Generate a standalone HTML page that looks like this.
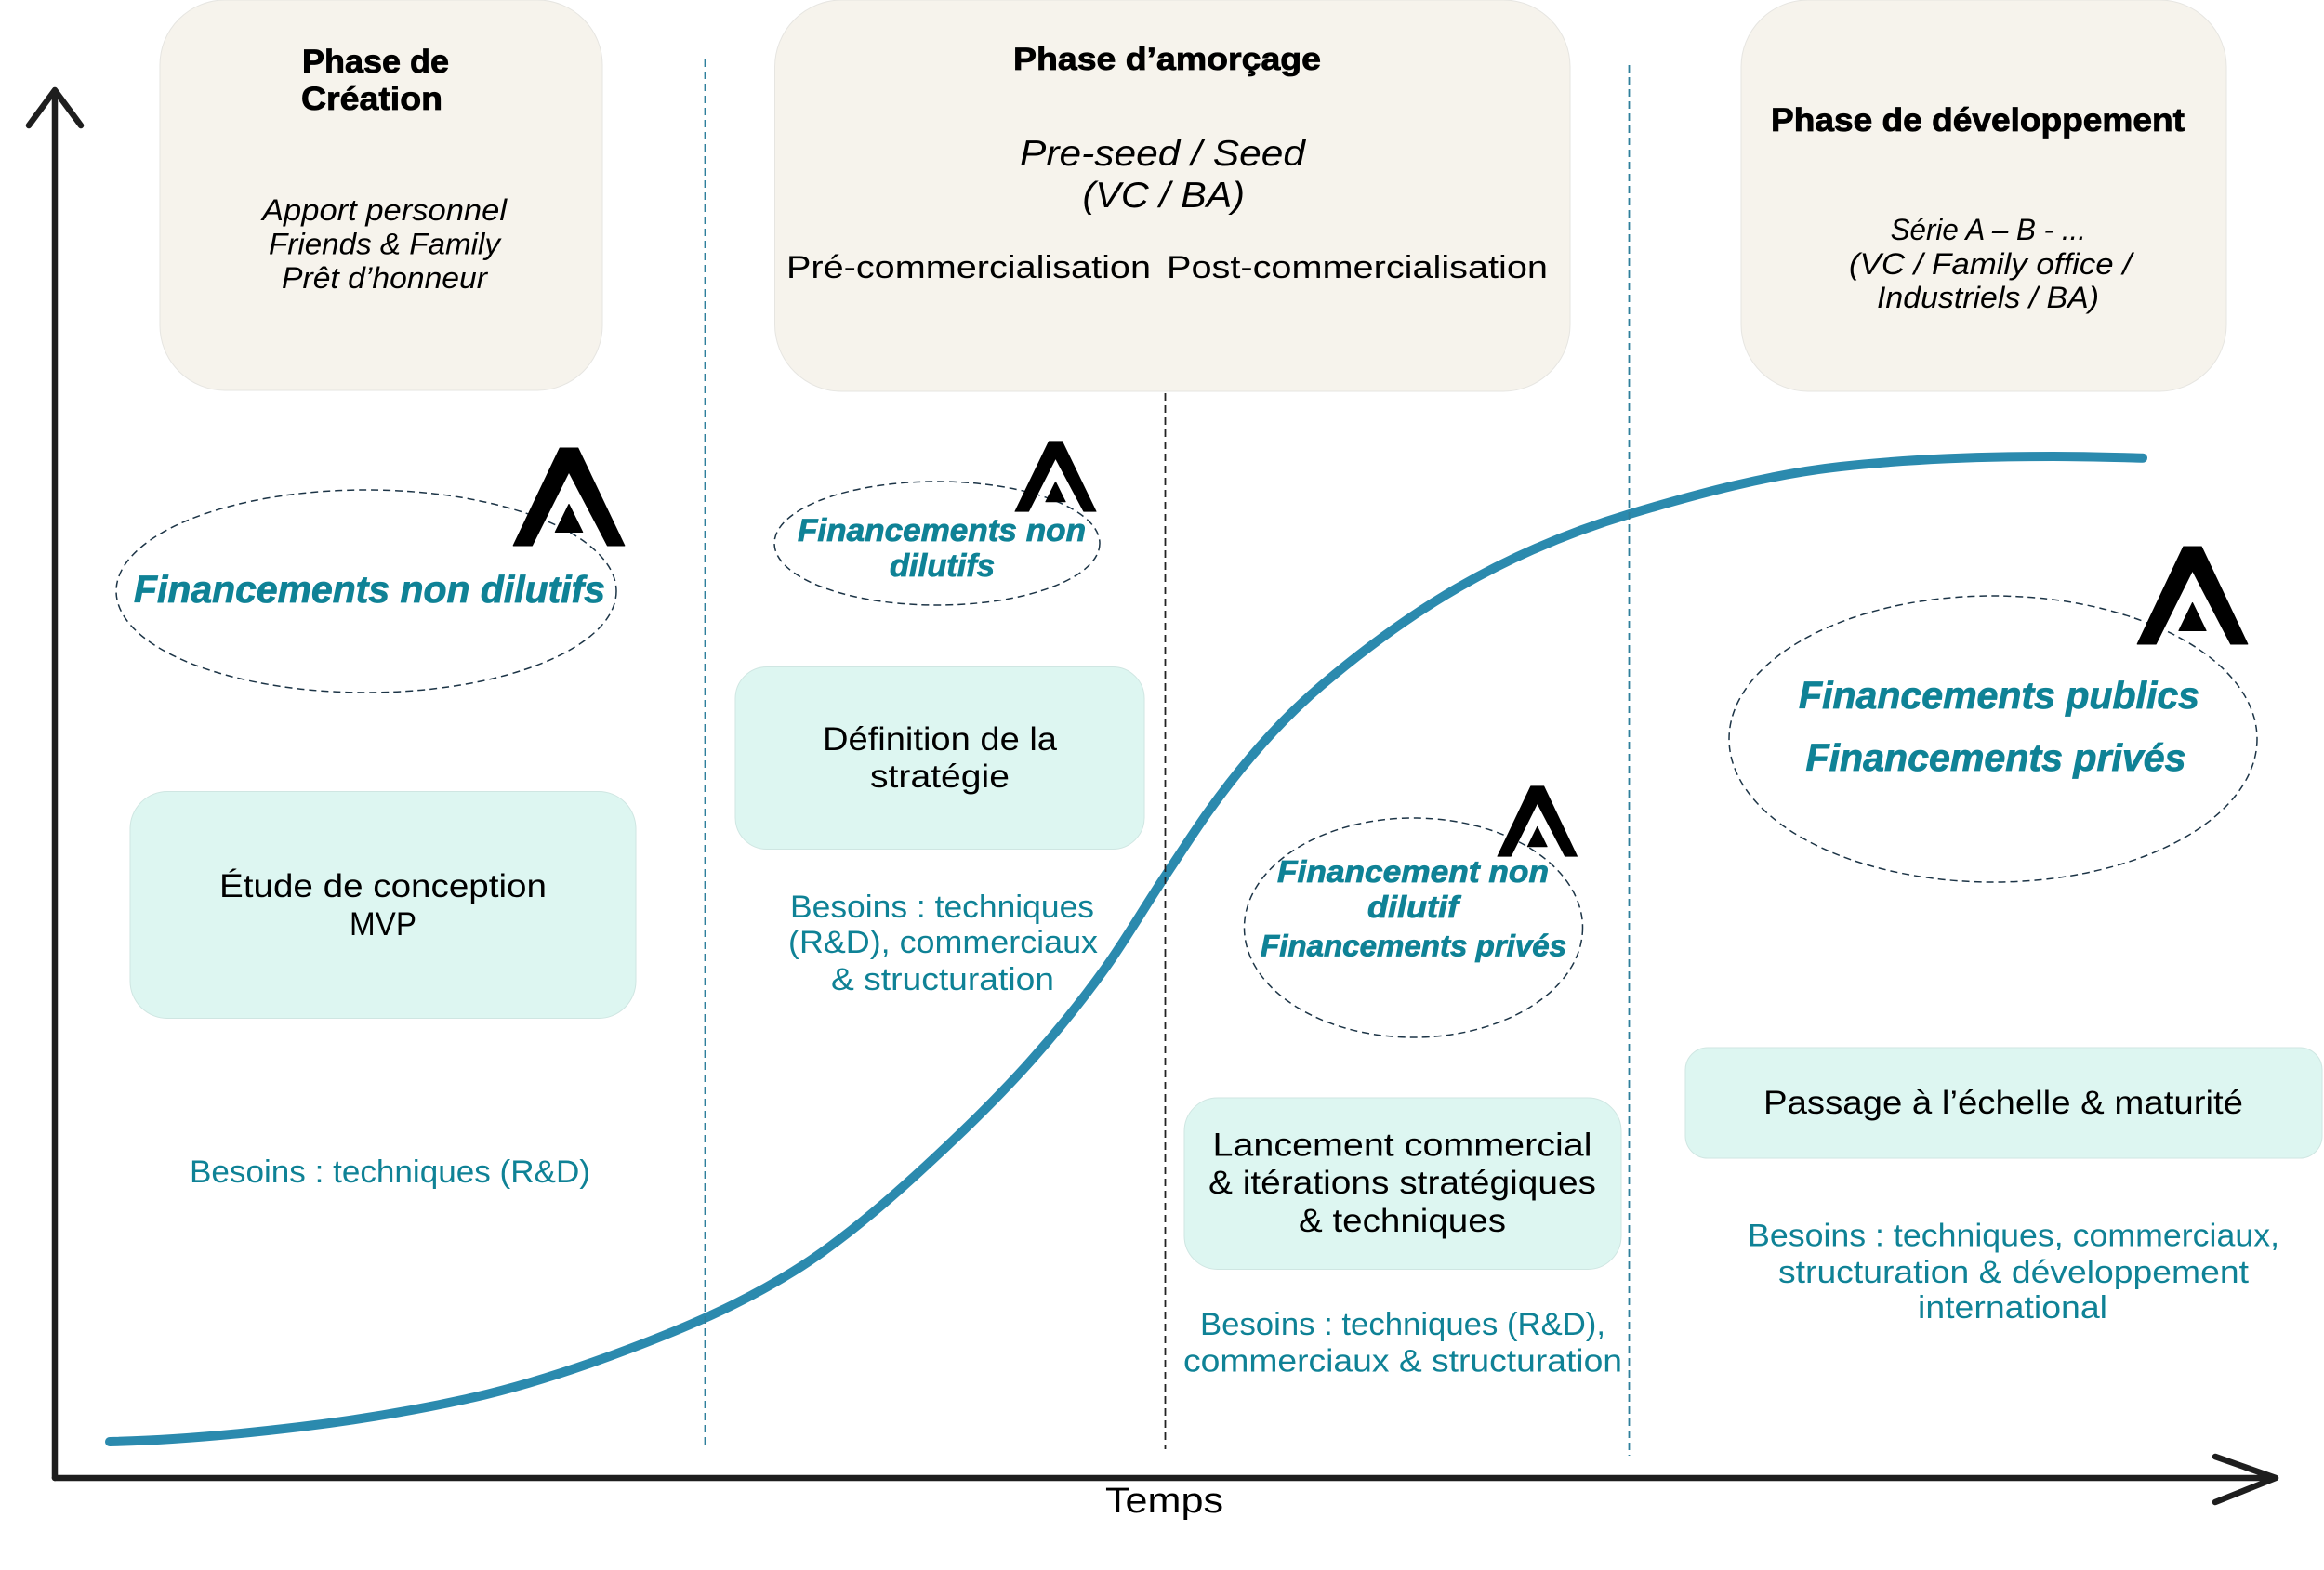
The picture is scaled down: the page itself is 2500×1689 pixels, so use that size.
<!DOCTYPE html>
<html lang="fr">
<head>
<meta charset="utf-8">
<title>Phases de financement</title>
<style>
html,body{margin:0;padding:0;background:#fff;width:2500px;height:1689px;overflow:hidden}
svg{display:block}
text{font-family:"Liberation Sans",sans-serif}
.h{font-weight:700;fill:#000;stroke:#000;stroke-width:.8}
.i{font-style:italic;fill:#000}
.n{fill:#000}
.b{fill:#0f8296}
.f{font-weight:700;font-style:italic;fill:#0f8296;stroke:#0f8296;stroke-width:.8}
.beige{fill:#f6f3ec;stroke:#e6e5e1;stroke-width:1}
.mint{fill:#ddf6f1;stroke:#cfe6e2;stroke-width:1}
.el{fill:none;stroke:#1c3446;stroke-width:1.5;stroke-dasharray:8 5}
</style>
</head>
<body>
<svg width="2500" height="1689" viewBox="0 0 2500 1689" xmlns="http://www.w3.org/2000/svg">
<defs>
<g id="logo"><path d="M0.01,0.99 L0.42,0.01 L0.58,0.01 L0.99,0.99 L0.84,0.99 L0.5,0.25 L0.175,0.99 Z M0.5,0.575 L0.62,0.855 L0.38,0.855 Z" fill="#000" stroke="#000" stroke-width="0.01" stroke-linejoin="round"/></g>
</defs>
<rect width="2500" height="1689" fill="#fff"/>

<!-- Curve -->
<path d="M118,1551 C186.3,1549.6 254.7,1543.2 323,1535 C382.7,1527.8 442.3,1518.1 502,1505 C561.3,1492 620.7,1472.5 680,1450 C737.7,1428.1 795.3,1403.8 853,1368 C910.3,1332.5 967.7,1281.4 1025,1227 C1080,1174.7 1135,1117 1190,1040 C1211,1010.6 1232,974.5 1253,943 C1268.7,919.5 1284.3,895 1300,873 C1340.7,816 1381.3,771.6 1422,737 C1470.3,696 1518.7,661 1567,633 C1629,597 1691,571.6 1753,553 C1828.7,530.3 1904.3,510.3 1980,502 C2056.3,493.6 2132.7,491 2209,491 C2241,491 2273,491.9 2305,492.7" fill="none" stroke="#2b8aae" stroke-width="10" stroke-linecap="round" stroke-linejoin="round"/>

<!-- Axes -->
<path d="M59,1590 L59,97 M31,135 L59,97 L87,135" fill="none" stroke="#1e1e1e" stroke-width="6.500" stroke-linecap="round" stroke-linejoin="round"/>
<path d="M59,1590 L2448,1590 M2383,1567 L2448,1590 L2383,1616" fill="none" stroke="#1e1e1e" stroke-width="6.500" stroke-linecap="round" stroke-linejoin="round"/>

<!-- Dashed separators -->
<line x1="758.5" y1="64" x2="758.5" y2="1559" stroke="#2f7f9c" stroke-width="1.8" stroke-dasharray="8 5"/>
<line x1="1253.5" y1="423" x2="1253.5" y2="1559" stroke="#222" stroke-width="1.8" stroke-dasharray="8 5"/>
<line x1="1752.5" y1="70" x2="1752.5" y2="1566" stroke="#2f7f9c" stroke-width="1.8" stroke-dasharray="8 5"/>

<!-- Phase boxes -->
<rect class="beige" x="172" y="0" width="476" height="420" rx="70" ry="70"/>
<rect class="beige" x="833.5" y="0" width="855.5" height="421" rx="72" ry="72"/>
<rect class="beige" x="1873" y="0" width="522" height="421" rx="72" ry="72"/>

<!-- Mint boxes -->
<rect class="mint" x="140" y="851.500" width="544" height="244" rx="40" ry="40"/>
<rect class="mint" x="791" y="717.500" width="440" height="196" rx="34" ry="34"/>
<rect class="mint" x="1274" y="1181" width="470" height="184.500" rx="36" ry="36"/>
<rect class="mint" x="1813" y="1127" width="685" height="119" rx="24" ry="24"/>

<!-- Ellipses -->
<ellipse class="el" cx="394" cy="636" rx="269" ry="109"/>
<ellipse class="el" cx="1008" cy="584.5" rx="175" ry="66.5"/>
<ellipse class="el" cx="2144" cy="795" rx="284" ry="154"/>
<ellipse class="el" cx="1520.5" cy="998" rx="182" ry="118"/>

<!-- Logos -->
<use href="#logo" transform="translate(551 481) scale(122 107)"/>
<use href="#logo" transform="translate(1091 474) scale(89 77)"/>
<use href="#logo" transform="translate(2298 587) scale(121 107)"/>
<use href="#logo" transform="translate(1610 845) scale(87.500 77)"/>

<!-- Box 1 text -->
<text class="h" x="325" y="78" font-size="35" textLength="158" lengthAdjust="spacingAndGlyphs">Phase de</text>
<text class="h" x="324" y="118" font-size="35" textLength="152" lengthAdjust="spacingAndGlyphs">Création</text>
<text class="i" x="282" y="237" font-size="32" textLength="263" lengthAdjust="spacingAndGlyphs">Apport personnel</text>
<text class="i" x="289" y="273.500" font-size="32" textLength="249" lengthAdjust="spacingAndGlyphs">Friends &amp; Family</text>
<text class="i" x="303" y="310" font-size="32" textLength="221" lengthAdjust="spacingAndGlyphs">Prêt d’honneur</text>

<!-- Box 2 text -->
<text class="h" x="1090" y="75" font-size="34" textLength="331" lengthAdjust="spacingAndGlyphs">Phase d’amorçage</text>
<text class="i" x="1097" y="178" font-size="39" textLength="307" lengthAdjust="spacingAndGlyphs">Pre-seed / Seed</text>
<text class="i" x="1164.500" y="223" font-size="39" textLength="174.500" lengthAdjust="spacingAndGlyphs">(VC / BA)</text>
<text class="n" x="846" y="299" font-size="34" textLength="392" lengthAdjust="spacingAndGlyphs">Pré-commercialisation</text>
<text class="n" x="1255" y="299" font-size="34" textLength="410" lengthAdjust="spacingAndGlyphs">Post-commercialisation</text>

<!-- Box 3 text -->
<text class="h" x="1905" y="141" font-size="35" textLength="445" lengthAdjust="spacingAndGlyphs">Phase de développement</text>
<text class="i" x="2033.600" y="258" font-size="32" textLength="210.400" lengthAdjust="spacingAndGlyphs">Série A – B - ...</text>
<text class="i" x="1989" y="295" font-size="32" textLength="304" lengthAdjust="spacingAndGlyphs">(VC / Family office /</text>
<text class="i" x="2019" y="331" font-size="32" textLength="239" lengthAdjust="spacingAndGlyphs">Industriels / BA)</text>

<!-- Financing labels -->
<text class="f" x="144" y="648" font-size="41" textLength="507" lengthAdjust="spacingAndGlyphs">Financements non dilutifs</text>
<text class="f" x="858" y="582" font-size="34" textLength="310" lengthAdjust="spacingAndGlyphs">Financements non</text>
<text class="f" x="957" y="620" font-size="34" textLength="113" lengthAdjust="spacingAndGlyphs">dilutifs</text>
<text class="f" x="1935" y="762" font-size="41" textLength="431" lengthAdjust="spacingAndGlyphs">Financements publics</text>
<text class="f" x="1942.500" y="829" font-size="41" textLength="409" lengthAdjust="spacingAndGlyphs">Financements privés</text>
<text class="f" x="1374" y="949" font-size="33" textLength="292" lengthAdjust="spacingAndGlyphs">Financement non</text>
<text class="f" x="1471" y="987" font-size="33" textLength="98" lengthAdjust="spacingAndGlyphs">dilutif</text>
<text class="f" x="1356" y="1028.500" font-size="32" textLength="329" lengthAdjust="spacingAndGlyphs">Financements privés</text>

<!-- Mint box text -->
<text class="n" x="236" y="965" font-size="35" textLength="352" lengthAdjust="spacingAndGlyphs">Étude de conception</text>
<text class="n" x="376" y="1006" font-size="35" textLength="72" lengthAdjust="spacingAndGlyphs">MVP</text>
<text class="n" x="885" y="807" font-size="35" textLength="252" lengthAdjust="spacingAndGlyphs">Définition de la</text>
<text class="n" x="936" y="847" font-size="35" textLength="150" lengthAdjust="spacingAndGlyphs">stratégie</text>
<text class="n" x="1304.500" y="1243.500" font-size="35" textLength="408" lengthAdjust="spacingAndGlyphs">Lancement commercial</text>
<text class="n" x="1300" y="1284" font-size="35" textLength="417" lengthAdjust="spacingAndGlyphs">&amp; itérations stratégiques</text>
<text class="n" x="1397" y="1325" font-size="35" textLength="223" lengthAdjust="spacingAndGlyphs">&amp; techniques</text>
<text class="n" x="1897" y="1198" font-size="35" textLength="516" lengthAdjust="spacingAndGlyphs">Passage à l’échelle &amp; maturité</text>

<!-- Besoins -->
<text class="b" x="204" y="1272" font-size="34" textLength="431" lengthAdjust="spacingAndGlyphs">Besoins : techniques (R&amp;D)</text>
<text class="b" x="850" y="987" font-size="34" textLength="327" lengthAdjust="spacingAndGlyphs">Besoins : techniques</text>
<text class="b" x="848" y="1025" font-size="34" textLength="333" lengthAdjust="spacingAndGlyphs">(R&amp;D), commerciaux</text>
<text class="b" x="894" y="1065" font-size="34" textLength="240" lengthAdjust="spacingAndGlyphs">&amp; structuration</text>
<text class="b" x="1291" y="1436" font-size="34" textLength="436" lengthAdjust="spacingAndGlyphs">Besoins : techniques (R&amp;D),</text>
<text class="b" x="1273" y="1475.500" font-size="34" textLength="472" lengthAdjust="spacingAndGlyphs">commerciaux &amp; structuration</text>
<text class="b" x="1880" y="1340.500" font-size="34" textLength="572" lengthAdjust="spacingAndGlyphs">Besoins : techniques, commerciaux,</text>
<text class="b" x="1913" y="1380" font-size="34" textLength="506" lengthAdjust="spacingAndGlyphs">structuration &amp; développement</text>
<text class="b" x="2063" y="1418" font-size="34" textLength="204" lengthAdjust="spacingAndGlyphs">international</text>

<!-- Axis label -->
<text class="n" x="1189" y="1627" font-size="38" textLength="127" lengthAdjust="spacingAndGlyphs">Temps</text>
</svg>
</body>
</html>
